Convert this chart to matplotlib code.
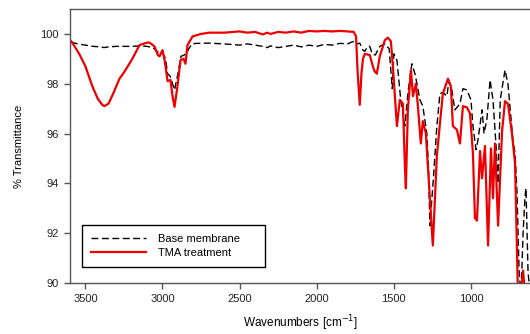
import matplotlib
matplotlib.use("Agg")
from matplotlib import pyplot as plt

plt.rcParams['font.family'] = ['Liberation Sans', 'DejaVu Sans']

# Base membrane (black dashed)
base_wn = [3600, 3595, 3580, 3550, 3500, 3450, 3400, 3380, 3350, 3300, 3250, 3200, 3150, 3100,
           3060, 3040, 3020, 3000, 2980, 2967, 2950, 2935, 2922, 2910, 2900, 2880, 2860, 2845,
           2830, 2810, 2780, 2700, 2600, 2500, 2450, 2400, 2350, 2320, 2300, 2250, 2200, 2150,
           2100, 2050, 2000, 1950, 1900, 1850, 1800, 1770, 1750, 1740, 1721, 1700, 1688, 1670,
           1656, 1640, 1620, 1600, 1590, 1558, 1530, 1510, 1500, 1480, 1455, 1428, 1409, 1383,
           1363, 1350, 1331, 1312, 1286, 1275, 1266, 1240, 1221, 1201, 1182, 1156, 1143, 1124,
           1104, 1071, 1052, 1026, 1000, 987, 967, 954, 928, 915, 896, 876, 857, 837, 824, 810,
           779, 760, 728, 714, 701, 688, 675, 662, 649, 643, 630, 617]
base_t = [99.3, 99.7, 99.65, 99.6, 99.55, 99.5, 99.48, 99.45, 99.48, 99.5, 99.5, 99.5, 99.52, 99.5,
          99.45, 99.3, 99.25, 99.25, 99.0, 98.4, 98.3, 98.0, 97.75, 98.1, 98.4, 99.1, 99.15, 99.2,
          99.4, 99.6, 99.62, 99.63, 99.6, 99.55, 99.6, 99.55, 99.5, 99.45, 99.52, 99.45, 99.5, 99.55,
          99.48, 99.55, 99.5, 99.58, 99.55, 99.62, 99.6, 99.68, 99.7, 99.6, 99.63, 99.35, 99.3, 99.5,
          99.5, 99.2, 99.15, 99.4, 99.5, 99.6, 99.4, 97.8, 99.2, 98.95, 97.35, 96.3, 97.6, 98.8,
          98.4, 98.0, 97.35, 97.1, 96.0, 94.6, 92.3, 94.5, 96.3, 97.6, 97.65, 97.5, 98.1, 97.75,
          96.95, 97.2, 97.8, 97.75, 97.35, 96.3, 95.35, 95.75, 96.95, 96.0, 96.6, 98.15, 97.35, 95.5, 94.0, 97.35,
          98.55, 98.0, 95.75, 95.2, 93.6, 90.5, 89.5, 92.0, 93.5, 93.8, 90.5, 89.5]

# TMA treatment (red)
tma_wn = [3600, 3580, 3540, 3500, 3455, 3420, 3390, 3377, 3350, 3320, 3279, 3250, 3200, 3149,
          3100, 3084, 3052, 3030, 3019, 3000, 2985, 2967, 2948, 2935, 2922, 2903, 2883, 2864,
          2851, 2838, 2805, 2750, 2695, 2600, 2500, 2450, 2400, 2350, 2320, 2300, 2250, 2200,
          2150, 2100, 2050, 2000, 1950, 1900, 1850, 1800, 1760, 1745, 1735, 1721, 1710, 1700,
          1688, 1656, 1636, 1625, 1610, 1591, 1558, 1539, 1519, 1506, 1480, 1461, 1441, 1428,
          1422, 1409, 1389, 1376, 1357, 1344, 1325, 1312, 1292, 1279, 1247, 1221, 1201, 1182,
          1149, 1130, 1117, 1091, 1071, 1052, 1026, 1006, 987, 974, 961, 941, 928, 909, 889,
          870, 857, 844, 824, 798, 779, 760, 734, 714, 695, 675, 662, 649, 617]
tma_t = [99.76, 99.6, 99.2, 98.7, 97.9, 97.4, 97.15, 97.1, 97.2, 97.6, 98.2, 98.45, 98.95, 99.55,
         99.65, 99.65, 99.5, 99.15, 99.1, 99.35, 98.9, 98.1, 98.15, 97.5, 97.07, 97.9, 98.95, 99.0,
         98.8, 99.55, 99.9, 100.0, 100.05, 100.05, 100.1, 100.05, 100.08, 99.98, 100.05, 100.0, 100.08, 100.05,
         100.1, 100.05, 100.12, 100.1, 100.12, 100.1, 100.12, 100.1, 100.08, 99.9, 98.5, 97.15, 98.4, 99.0,
         99.2, 99.15, 98.7, 98.5, 98.4, 99.1, 99.75, 99.85, 99.7, 98.7, 96.3, 97.35, 97.2, 94.65,
         93.8, 96.95, 98.55, 97.5, 98.0, 97.1, 95.6, 96.5, 96.0, 94.65, 91.5, 95.1, 96.4, 97.6,
         98.2, 97.9, 96.3, 96.15, 95.6, 97.1, 97.05, 96.8, 95.2, 92.6, 92.5, 95.3, 94.2, 95.5, 91.5,
         95.4, 93.4, 95.6, 92.3, 96.1, 97.3, 97.2, 96.0, 94.8, 89.5, 89.5, 90.5, 89.5, 89.5]

xticks = [3500, 3000, 2500, 2000, 1500, 1000]
yticks = [90, 92, 94, 96, 98, 100]

fig = plt.figure(figsize=(5.3, 3.34), dpi=100)
ax = fig.add_axes([0.132, 0.153, 0.868, 0.82])

ax.plot(base_wn, base_t, color='black', lw=1.0, dashes=(5, 2.5), label='Base membrane')
ax.plot(tma_wn, tma_t, color='#ee0000', lw=1.6, label='TMA treatment')

ax.set_xlim(3600, 617)
ax.set_ylim(90, 101)
ax.set_xticks(xticks)
ax.set_yticks(yticks)

for s in ['left', 'bottom', 'top']:
    ax.spines[s].set_color('#555555')
    ax.spines[s].set_linewidth(1.0)
ax.spines['right'].set_visible(False)
ax.tick_params(direction='out', length=4, width=1, color='#555555',
               labelsize=8, labelcolor='#222222', pad=4)

ax.set_xlabel(r"Wavenumbers [cm$^{-1}$]", fontsize=8.5, labelpad=7)
ax.set_ylabel("% Transmittance", fontsize=8, labelpad=12)

leg = ax.legend(loc='lower left', bbox_to_anchor=(0.026, 0.058, 0.398, 0.15), mode='expand',
                fontsize=8, fancybox=False, framealpha=1, edgecolor='black', borderpad=0.85,
                handlelength=4.9, handletextpad=1.1, labelspacing=0.3, borderaxespad=0)
leg.get_frame().set_linewidth(1.0)

fig.savefig("out.png", dpi=100)
